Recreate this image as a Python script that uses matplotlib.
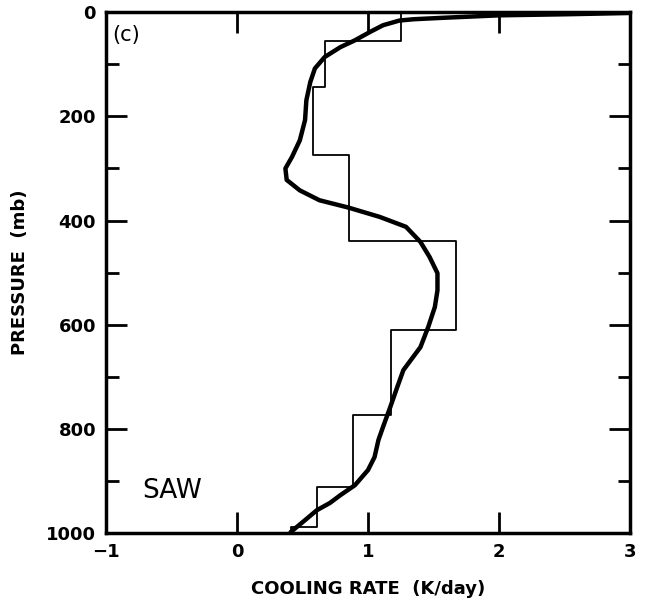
import matplotlib
matplotlib.use("Agg")
import matplotlib.pyplot as plt
import numpy as np

# Step (histogram) profile: layer boundaries (mb) and cooling rates (K/day)
step_bounds = [0, 55, 144, 275, 440, 611, 773, 911, 988, 1000]
step_rates = [1.25, 0.67, 0.58, 0.855, 1.67, 1.175, 0.885, 0.61, 0.41]

# Smooth curve profile
curve_p = [0, 1.5, 4, 6, 11, 13.5, 16, 25, 38, 54, 67, 86, 108, 134, 169, 207, 246, 278,
           300, 322, 342, 361, 375, 393, 412, 441, 470, 501, 534, 566, 604, 643, 687, 722,
           758, 796, 821, 854, 879, 908, 927, 942, 956, 975, 998]
curve_rate = [3.3, 3.0, 2.5, 2.0, 1.55, 1.35, 1.24, 1.115, 1.015, 0.90, 0.79, 0.67, 0.595, 0.56,
              0.53, 0.52, 0.48, 0.42, 0.37, 0.38, 0.48, 0.63, 0.85, 1.09, 1.29, 1.40, 1.47,
              1.53, 1.53, 1.51, 1.46, 1.40, 1.27, 1.22, 1.17, 1.115, 1.08, 1.05, 1.00, 0.90,
              0.79, 0.71, 0.61, 0.52, 0.41]

xticks = [-1, 0, 1, 2, 3]
yticks = [0, 200, 400, 600, 800, 1000]

fig = plt.figure(figsize=(6.49, 6.10), dpi=100)
ax = fig.add_axes([0.163, 0.126, 0.808, 0.854])

# step line
xs, ys = [], []
for i, r in enumerate(step_rates):
    xs += [r, r]
    ys += [step_bounds[i], step_bounds[i + 1]]
ax.plot(xs, ys, color='black', lw=1.3)

ax.plot(curve_rate, curve_p, color='black', lw=3.2, solid_capstyle='round',
        solid_joinstyle='round')

ax.set_xlim(-1, 3)
ax.set_ylim(1000, 0)
ax.set_xticks(xticks)
ax.set_yticks(yticks)
ax.set_yticks([100, 300, 500, 700, 900], minor=True)
ax.set_xticklabels(['\u22121', '0', '1', '2', '3'])
ax.tick_params(axis='both', which='major', direction='in', length=15, width=2,
               top=True, right=True, labelsize=13, pad=7)
ax.tick_params(axis='y', which='minor', direction='in', length=9, width=2, right=True, left=True)
for lab in ax.get_xticklabels() + ax.get_yticklabels():
    lab.set_fontweight('bold')
for s in ax.spines.values():
    s.set_linewidth(2.5)

ax.set_xlabel('COOLING RATE  (K/day)', fontsize=13, fontweight='bold', labelpad=14)
ax.set_ylabel('PRESSURE  (mb)', fontsize=13, fontweight='bold', labelpad=12)

ax.text(0.012, 0.975, '(c)', transform=ax.transAxes, fontsize=15, va='top', ha='left')
ax.text(0.07, 0.08, 'SAW', transform=ax.transAxes, fontsize=19, va='center', ha='left')

fig.savefig('out.png', dpi=100)
